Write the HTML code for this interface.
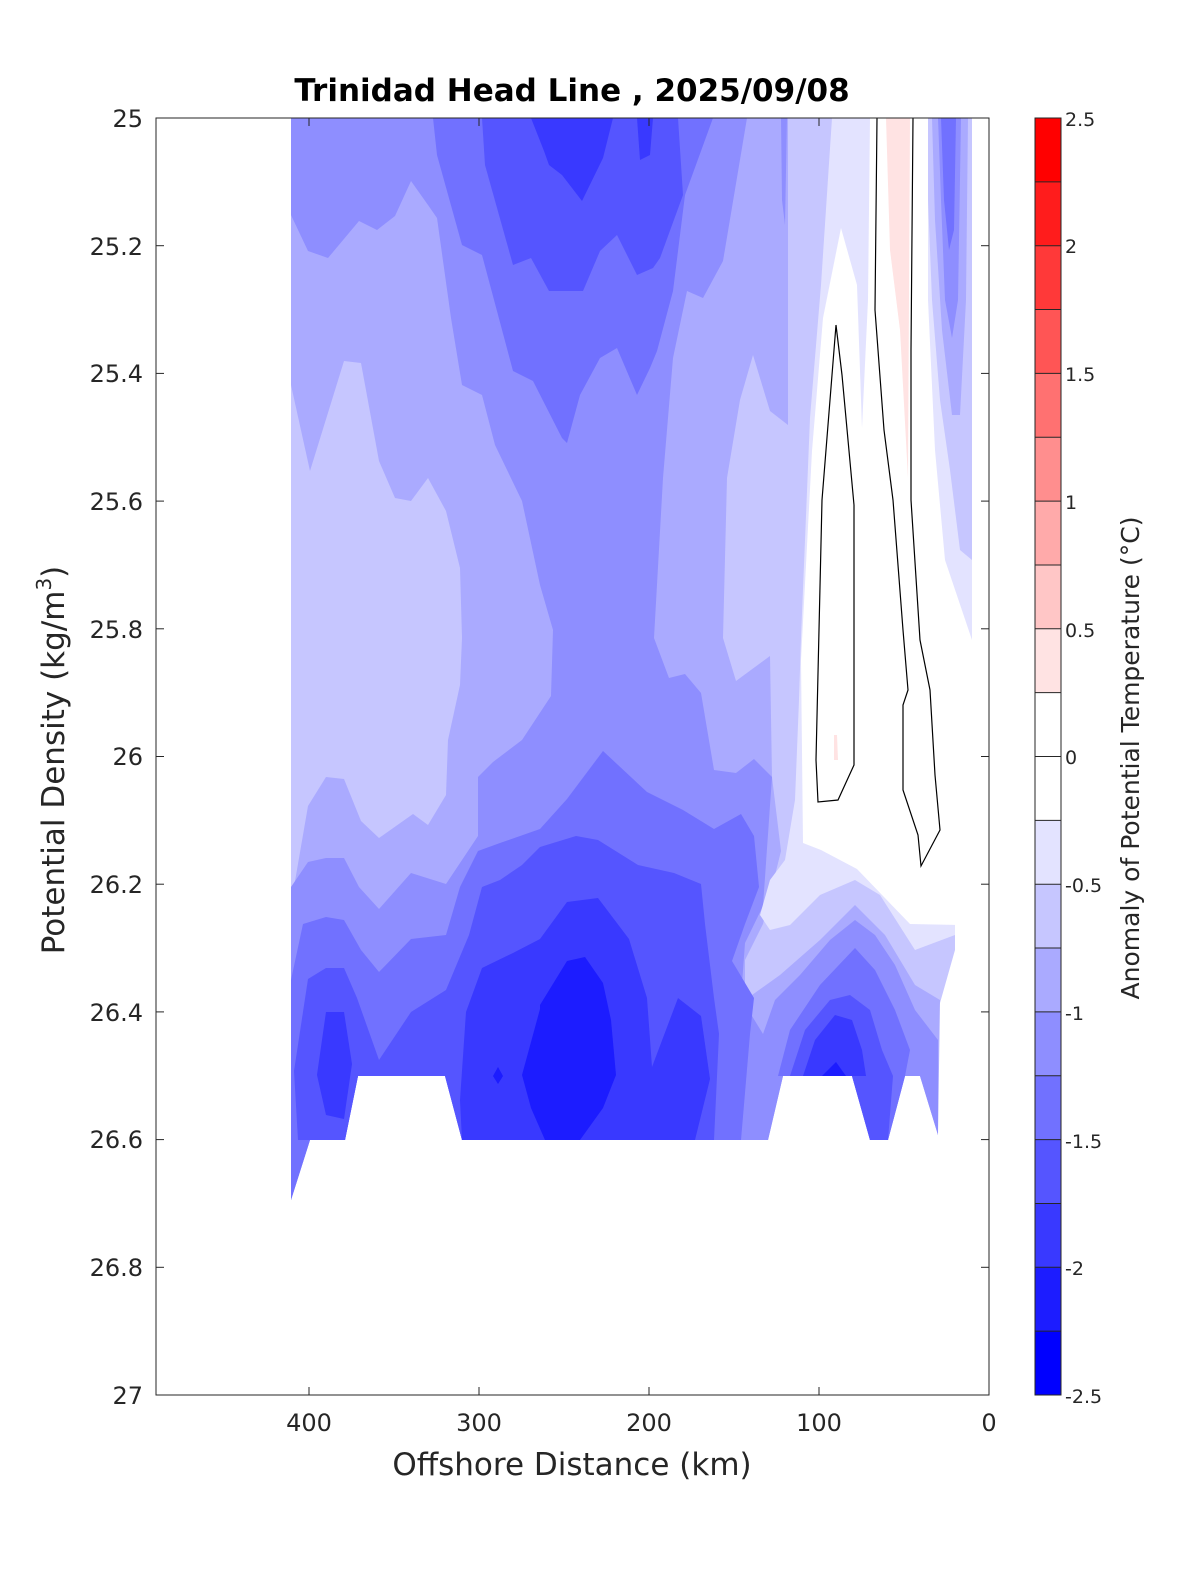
<!DOCTYPE html>
<html><head><meta charset="utf-8"><style>
body{margin:0;background:#fff}
svg text{font-family:"DejaVu Sans","Liberation Sans",sans-serif;fill:#262626}
</style></head><body>
<svg width="1200" height="1575" viewBox="0 0 1200 1575" xmlns="http://www.w3.org/2000/svg">
<rect width="1200" height="1575" fill="#fff"/>
<defs><clipPath id="c"><rect x="156" y="118" width="833" height="1277"/></clipPath></defs>
<g clip-path="url(#c)" stroke="none">
<polygon fill="#c6c6ff" points="291,118 972,118 972,660 955,900 955,950 938,1010 938,1135 920,1076 905,1076 888,1140 870,1140 852,1076 783,1076 768,1140 462,1140 445,1076 358,1076 345,1140 310,1140 291,1200"/>
<polygon fill="#aaaaff" points="291,118 788,118 788,425 770,411 753,355 740,400 727,478 723,638 736,681 770,656 772,777 781,851 763,924 745,960 745,1000 780,975 820,940 855,905 885,935 915,985 940,1000 938,1135 920,1076 905,1076 888,1140 870,1140 852,1076 783,1076 768,1140 462,1140 445,1076 358,1076 345,1140 310,1140 291,1200"/>
<polygon fill="#c6c6ff" points="291,385 310,471 344,361 361,363 379,461 395,498 411,501 428,478 446,511 460,568 462,638 460,685 448,740 446,795 428,825 413,814 379,838 361,821 344,779 326,777 308,806 294,887 291,887"/>
<polygon fill="#8e8eff" points="291,118 747,118 723,261 703,298 687,291 673,358 663,478 654,638 669,678 685,674 701,693 714,770 736,773 754,759 772,777 763,906 745,943 741,998 763,1034 770,1076 768,1140 462,1140 445,1076 358,1076 345,1140 310,1140 291,1200 291,887 308,862 326,858 344,858 359,887 379,909 411,873 446,884 478,836 478,777 493,762 522,740 551,696 553,630 540,585 522,501 495,445 482,395 462,385 451,318 437,218 428,205 411,181 395,216 377,230 359,221 328,258 308,251 291,215"/>
<polygon fill="#8e8eff" points="781,118 787,118 785,225 782,200"/>
<polygon fill="#7171ff" points="433,118 437,155 462,245 482,255 513,371 533,381 562,438 567,443 580,395 600,358 617,348 637,395 650,368 657,351 673,291 685,195 713,118"/>
<polygon fill="#7171ff" points="291,980 303,924 326,917 344,920 361,950 379,972 411,939 446,935 460,887 478,851 500,843 540,829 567,799 603,751 647,792 683,810 714,829 741,814 754,836 759,887 745,924 732,961 754,998 750,1034 741,1140 462,1140 445,1076 358,1076 345,1140 310,1140 291,1200"/>
<polygon fill="#5555ff" points="482,118 485,165 513,265 531,258 549,291 583,291 600,251 617,235 637,275 653,268 660,258 683,195 678,118"/>
<polygon fill="#5555ff" points="298,1140 294,1071 308,979 326,968 344,968 357,998 379,1060 411,1012 446,990 469,935 482,887 500,880 522,865 540,847 576,836 598,840 638,865 674,873 701,884 705,924 714,998 719,1034 714,1140 462,1140 445,1076 358,1076 345,1140"/>
<polygon fill="#3939ff" points="531,118 544,151 549,165 562,175 582,201 603,158 613,118"/>
<polygon fill="#3939ff" points="637,118 653,118 650,155 640,160"/>
<polygon fill="#3939ff" points="326,1012 344,1012 352,1064 344,1119 326,1115 317,1075"/>
<polygon fill="#3939ff" points="460,1100 466,1012 482,968 513,953 540,939 567,902 598,898 629,939 647,998 652,1067 678,998 701,1016 710,1079 695,1140 462,1140"/>
<polygon fill="#1c1cff" points="540,1005 567,961 585,957 603,983 611,1020 616,1075 603,1108 580,1140 545,1140 531,1108 522,1075 540,1009"/>
<polygon fill="#1c1cff" points="498,1067 503,1076 498,1084 493,1076"/>
<polygon fill="#e3e3ff" points="832,118 972,118 972,660 955,900 955,935 915,950 880,895 855,880 820,895 790,925 770,930 760,915 770,880 785,860 795,800 799,700 801,638 810,418 821,285"/>
<polygon fill="#ffffff" points="870,118 928,118 928,300 935,450 945,560 972,640 972,800 960,925 910,924 857,869 821,850 803,843 801,660 812,451 823,318 841,228 857,285 862,428 868,300"/>
<polygon fill="#ffe3e3" points="886,118 910,118 908,478 900,330 890,250"/>
<polygon fill="#ffe3e3" points="834,735 837,735 838,760 834,760"/>
<polygon fill="#c6c6ff" points="928,118 972,118 972,560 960,550 950,470 940,400 932,300 928,200"/>
<polygon fill="#aaaaff" points="932,118 968,118 966,300 960,415 952,415 942,330 935,220"/>
<polygon fill="#8e8eff" points="938,118 961,118 958,300 952,338 945,300 941,200"/>
<polygon fill="#7171ff" points="941,118 956,118 954,230 949,250 944,200"/>
<polygon fill="#8e8eff" points="763,1034 775,1000 800,975 830,940 855,920 875,935 895,965 915,1010 938,1040 938,1135 920,1076 905,1076 888,1140 870,1140 852,1076 783,1076 768,1140"/>
<polygon fill="#7171ff" points="778,1076 790,1030 820,985 855,948 875,970 895,1010 910,1050 905,1076 888,1140 870,1140 852,1076"/>
<polygon fill="#5555ff" points="790,1076 805,1030 830,1000 850,995 870,1010 882,1050 893,1076 888,1140 870,1140 852,1076"/>
<polygon fill="#3939ff" points="803,1076 815,1040 835,1015 852,1020 862,1050 866,1076"/>
<polygon fill="#1c1cff" points="822,1076 836,1062 846,1076"/>
<polyline fill="none" stroke="#000" stroke-width="1.2" points="836,325 842,375 854,505 854,765 838,800 818,802 816,760 822,500 836,325"/>
<polyline fill="none" stroke="#000" stroke-width="1.2" points="877,118 875,310 884,430 893,500 903,630 908,690 903,705 903,790 918,835 921,866 940,830 935,775 930,690 920,640 911,500 911,350 913,118"/>
</g>
<rect x="156" y="118" width="833" height="1277" fill="none" stroke="#262626" stroke-width="1"/>
<g stroke="#262626" stroke-width="1">
<line x1="156" y1="245.7" x2="164" y2="245.7"/><line x1="981" y1="245.7" x2="989" y2="245.7"/>
<line x1="156" y1="373.4" x2="164" y2="373.4"/><line x1="981" y1="373.4" x2="989" y2="373.4"/>
<line x1="156" y1="501.1" x2="164" y2="501.1"/><line x1="981" y1="501.1" x2="989" y2="501.1"/>
<line x1="156" y1="628.8" x2="164" y2="628.8"/><line x1="981" y1="628.8" x2="989" y2="628.8"/>
<line x1="156" y1="756.5" x2="164" y2="756.5"/><line x1="981" y1="756.5" x2="989" y2="756.5"/>
<line x1="156" y1="884.2" x2="164" y2="884.2"/><line x1="981" y1="884.2" x2="989" y2="884.2"/>
<line x1="156" y1="1011.9" x2="164" y2="1011.9"/><line x1="981" y1="1011.9" x2="989" y2="1011.9"/>
<line x1="156" y1="1139.6" x2="164" y2="1139.6"/><line x1="981" y1="1139.6" x2="989" y2="1139.6"/>
<line x1="156" y1="1267.3" x2="164" y2="1267.3"/><line x1="981" y1="1267.3" x2="989" y2="1267.3"/>
<line x1="309" y1="1395" x2="309" y2="1387"/><line x1="309" y1="118" x2="309" y2="126"/>
<line x1="479" y1="1395" x2="479" y2="1387"/><line x1="479" y1="118" x2="479" y2="126"/>
<line x1="649" y1="1395" x2="649" y2="1387"/><line x1="649" y1="118" x2="649" y2="126"/>
<line x1="819" y1="1395" x2="819" y2="1387"/><line x1="819" y1="118" x2="819" y2="126"/>
</g>
<g font-size="24" text-anchor="end">
<text x="143" y="127">25</text><text x="143" y="255">25.2</text><text x="143" y="382">25.4</text>
<text x="143" y="510">25.6</text><text x="143" y="638">25.8</text><text x="143" y="765">26</text>
<text x="143" y="893">26.2</text><text x="143" y="1021">26.4</text><text x="143" y="1148">26.6</text>
<text x="143" y="1276">26.8</text><text x="143" y="1404">27</text>
</g>
<g font-size="24" text-anchor="middle">
<text x="309" y="1431">400</text><text x="479" y="1431">300</text><text x="649" y="1431">200</text>
<text x="819" y="1431">100</text><text x="989" y="1431">0</text>
</g>
<text x="572" y="1475" font-size="31" text-anchor="middle">Offshore Distance (km)</text>
<text transform="translate(64,760) rotate(-90)" font-size="31" text-anchor="middle">Potential Density (kg/m<tspan font-size="20" dy="-13">3</tspan><tspan dy="13">)</tspan></text>
<text x="572" y="101" font-size="31" font-weight="bold" text-anchor="middle" style="fill:#000">Trinidad Head Line , 2025/09/08</text>
<g stroke="none">
<rect x="1035" y="118" width="26" height="64.2" fill="#ff0000"/>
<rect x="1035" y="181.85" width="26" height="64.2" fill="#ff1c1c"/>
<rect x="1035" y="245.7" width="26" height="64.2" fill="#ff3939"/>
<rect x="1035" y="309.55" width="26" height="64.2" fill="#ff5555"/>
<rect x="1035" y="373.4" width="26" height="64.2" fill="#ff7171"/>
<rect x="1035" y="437.25" width="26" height="64.2" fill="#ff8e8e"/>
<rect x="1035" y="501.1" width="26" height="64.2" fill="#ffaaaa"/>
<rect x="1035" y="564.95" width="26" height="64.2" fill="#ffc6c6"/>
<rect x="1035" y="628.8" width="26" height="64.2" fill="#ffe3e3"/>
<rect x="1035" y="692.65" width="26" height="127.7" fill="#ffffff"/>
<rect x="1035" y="820.35" width="26" height="64.2" fill="#e3e3ff"/>
<rect x="1035" y="884.2" width="26" height="64.2" fill="#c6c6ff"/>
<rect x="1035" y="948.05" width="26" height="64.2" fill="#aaaaff"/>
<rect x="1035" y="1011.9" width="26" height="64.2" fill="#8e8eff"/>
<rect x="1035" y="1075.75" width="26" height="64.2" fill="#7171ff"/>
<rect x="1035" y="1139.6" width="26" height="64.2" fill="#5555ff"/>
<rect x="1035" y="1203.45" width="26" height="64.2" fill="#3939ff"/>
<rect x="1035" y="1267.3" width="26" height="64.2" fill="#1c1cff"/>
<rect x="1035" y="1331.15" width="26" height="63.85" fill="#0000ff"/>
</g>
<g stroke="#262626" stroke-width="1">
<rect x="1035" y="118" width="26" height="1277" fill="none"/>
<path d="M1035 181.85h26M1035 245.7h26M1035 309.55h26M1035 373.4h26M1035 437.25h26M1035 501.1h26M1035 564.95h26M1035 628.8h26M1035 692.65h26M1035 756.5h26M1035 820.35h26M1035 884.2h26M1035 948.05h26M1035 1011.9h26M1035 1075.75h26M1035 1139.6h26M1035 1203.45h26M1035 1267.3h26M1035 1331.15h26"/>
</g>
<g font-size="19">
<text x="1065" y="126">2.5</text><text x="1065" y="253">2</text><text x="1065" y="381">1.5</text>
<text x="1065" y="509">1</text><text x="1065" y="637">0.5</text><text x="1065" y="764">0</text>
<text x="1065" y="892">-0.5</text><text x="1065" y="1020">-1</text><text x="1065" y="1148">-1.5</text>
<text x="1065" y="1275">-2</text><text x="1065" y="1403">-2.5</text>
</g>
<text transform="translate(1139,758) rotate(-90)" font-size="25" text-anchor="middle">Anomaly of Potential Temperature (°C)</text>
</svg>
</body></html>
